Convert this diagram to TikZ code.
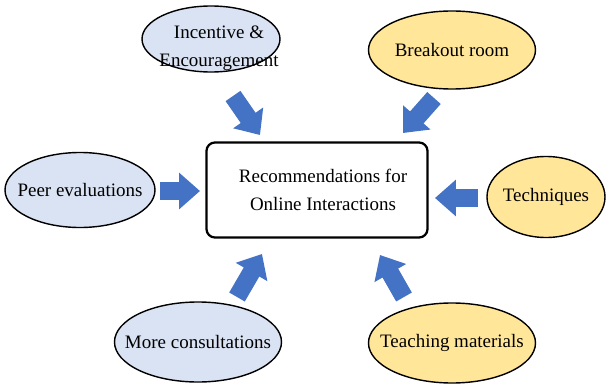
\documentclass[tikz,border=0pt]{standalone}
\usepackage{fontspec}
\setmainfont{Liberation Serif}
\definecolor{rec_blue}{RGB}{68, 114, 196}
\definecolor{rec_lav}{RGB}{218, 227, 243}
\definecolor{rec_gold}{RGB}{255, 230, 153}
\usepackage{tikz}
\usetikzlibrary{arrows.meta, shapes.geometric}

\begin{document}
\begin{tikzpicture}[
        every node/.style={font=\fontsize{13.5}{20}\selectfont},
        main/.style={draw=black, line width=1.6pt, rounded corners=6pt, minimum width=5.525cm, minimum height=2.375cm, align=center},
        oval/.style={draw=black, line width=1pt, ellipse, inner sep=0pt, minimum width=4.175cm, minimum height=1.95cm},
        lav/.style={oval, fill=rec_lav},
        gold/.style={oval, fill=rec_gold},
        txt/.style={align=center},
        fat/.style={rec_blue, line width=0.45cm, -{Triangle[width=0.88cm, length=0.52cm]}},
      ]
        \useasboundingbox (0,0) rectangle (15.175,9.575);

        \node[main, label={[txt, xshift=0.15cm]center:{Recommendations for\\Online Interactions}}] (rec) at (7.925,4.825) {};

        \node[lav, minimum width=3.45cm, minimum height=1.65cm,
              label={[txt, xshift=0.2cm, yshift=-0.22cm]center:{Incentive \&\\Encouragement}}] (inc) at (5.275,8.6) {};
        \node[gold, label={[txt]center:Breakout room}] (bro) at (11.3,8.325) {};
        \node[lav, minimum width=3.75cm, minimum height=1.875cm,
              label={[txt]center:Peer evaluations}] (pee) at (2.0,4.825) {};
        \node[gold, minimum width=2.95cm, minimum height=2.025cm,
              label={[txt]center:Techniques}] (tec) at (13.65,4.65) {};
        \node[lav, minimum height=2cm, label={[txt]center:More consultations}] (mor) at (4.95,1.025) {};
        \node[gold, minimum height=2cm, label={[txt]center:Teaching materials}] (tea) at (11.3,1.0) {};

        % block arrows (tail -> head)
        \coordinate (t1) at (5.825,7.175);  \coordinate (h1) at (6.5,6.2);
        \coordinate (t2) at (10.85,7.125);  \coordinate (h2) at (10.075,6.25);
        \coordinate (t3) at (4.0,4.8);      \coordinate (h3) at (5.0,4.8);
        \coordinate (t4) at (11.95,4.625);  \coordinate (h4) at (10.875,4.625);
        \coordinate (t5) at (5.925,2.15);   \coordinate (h5) at (6.55,3.225);
        \coordinate (t6) at (10.1,2.15);    \coordinate (h6) at (9.5,3.2);

        \draw[fat] (t1) -- (h1);
        \draw[fat] (t2) -- (h2);
        \draw[fat] (t3) -- (h3);
        \draw[fat] (t4) -- (h4);
        \draw[fat] (t5) -- (h5);
        \draw[fat] (t6) -- (h6);
      \end{tikzpicture}
\end{document}
